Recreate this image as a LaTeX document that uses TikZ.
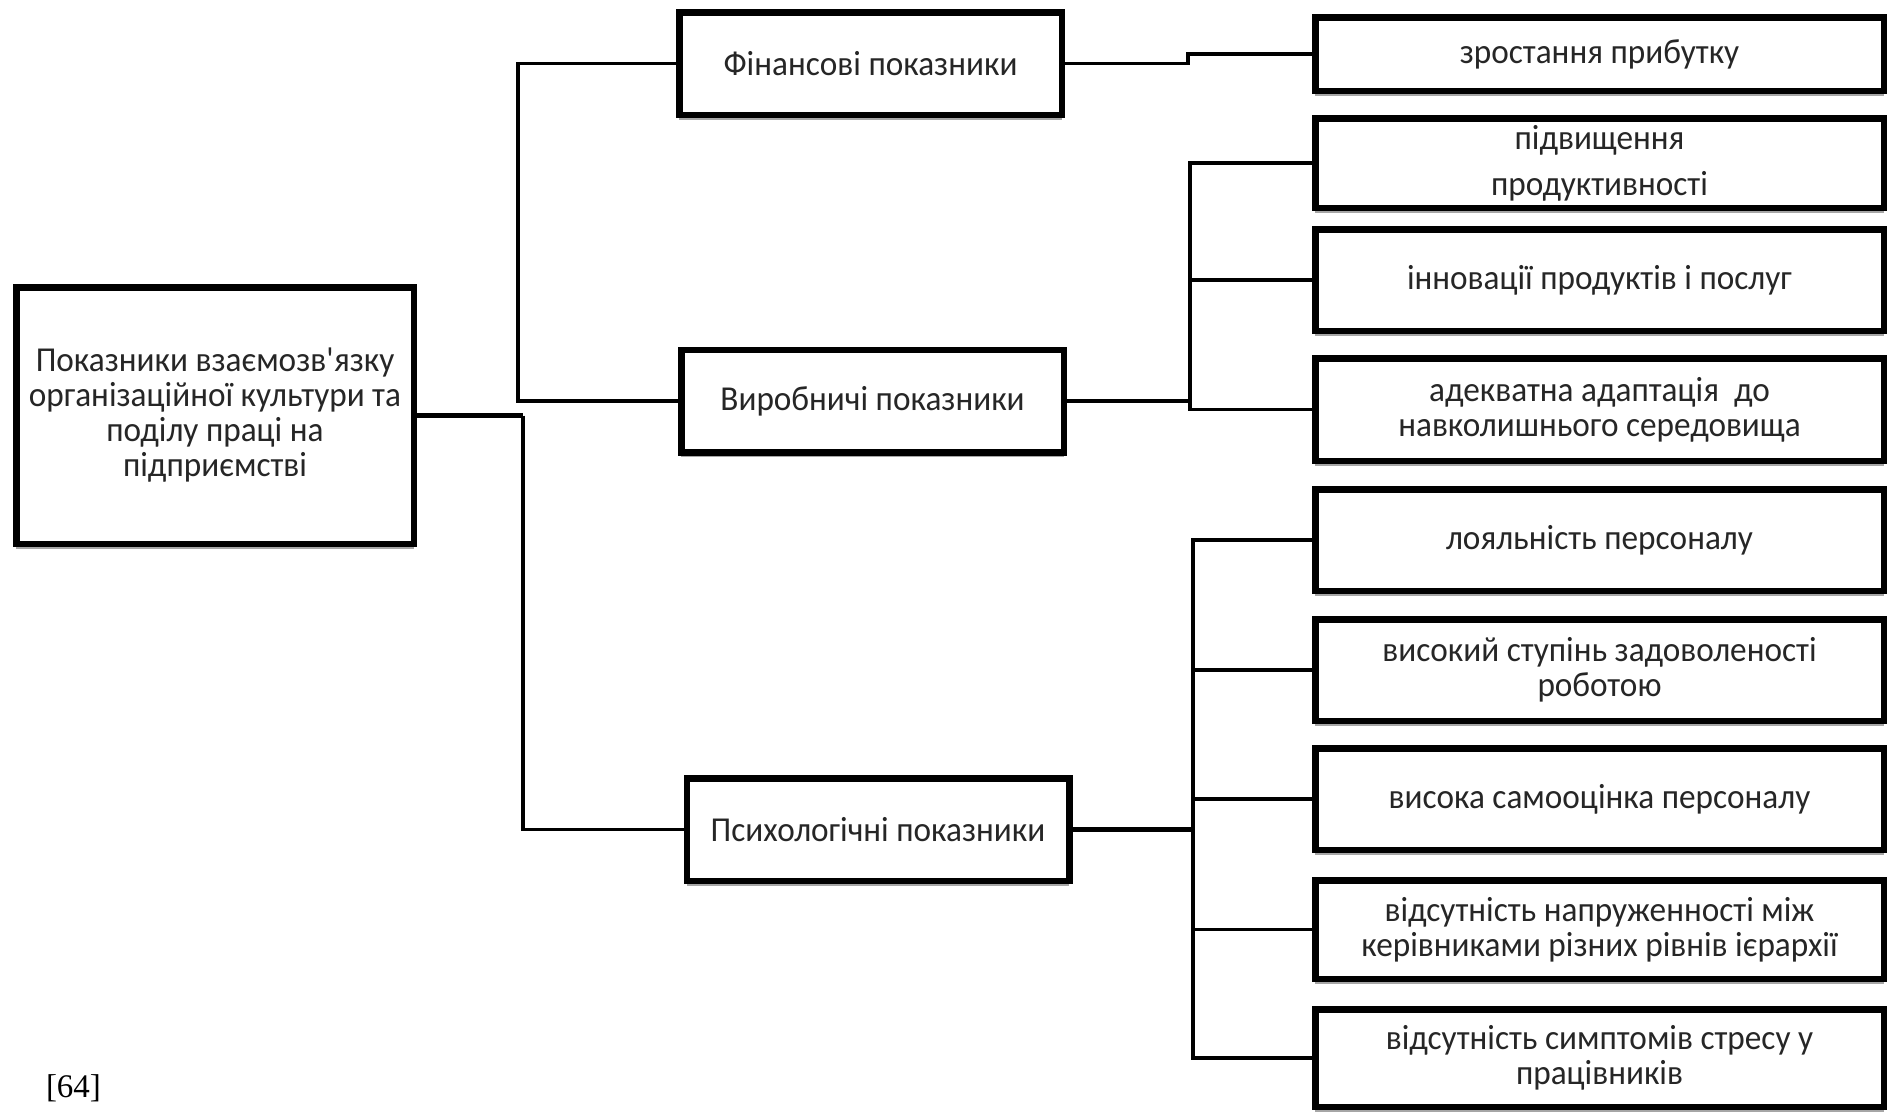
\documentclass[tikz,border=0pt]{standalone}
\usepackage{fontspec}
\setmainfont{Carlito}[FakeStretch=0.95]
\newfontfamily\timesf{Liberation Serif}
\usetikzlibrary{shadows}
\begin{document}
\begin{tikzpicture}[x=1pt,y=-1pt,
  box/.style={draw=black, line width=6.5pt, fill=white, inner sep=0pt, align=center,
    text=black!85, font=\fontsize{35}{35}\selectfont,
    drop shadow={shadow xshift=0pt, shadow yshift=-5pt, fill=black!35, opacity=1}},
  midbox/.style={box, minimum width=382.5pt, minimum height=102.5pt},
  rbox/.style={box, minimum width=568.5pt},
  conn/.style={line width=3.5pt, line join=miter},
  thick conn/.style={line width=5.5pt}]
\useasboundingbox (0,0) rectangle (1892,1114);

% root
\node[box, minimum width=397.5pt, minimum height=256.5pt] (root) at (215,415.5)
  {Показники взаємозв\textquotesingle язку\\організаційної культури та\\поділу праці на\\підприємстві};

% middle column
\node[midbox] (fin) at (870.5,63.5) {Фінансові показники};
\node[midbox] (vyr) at (872.5,401) {Виробничі показники};
\node[midbox] (psy) at (878,829.5) {Психологічні показники};

% right column
\node[rbox, minimum height=73.5pt]  (r1) at (1599.5,54)    {зростання прибутку};
\node[rbox, minimum height=89.5pt, font=\fontsize{35}{46}\selectfont] (r2) at (1599.5,163) {підвищення\\продуктивності};
\node[rbox, minimum height=101.5pt] (r3) at (1599.5,280)   {інновації продуктів і послуг};
\node[rbox, minimum height=102.5pt] (r4) at (1599.5,409.5) {адекватна адаптація\ \ до\\навколишнього середовища};
\node[rbox, minimum height=101.5pt] (r5) at (1599.5,540)   {лояльність персоналу};
\node[rbox, minimum height=101.5pt] (r6) at (1599.5,670)   {високий ступінь задоволеності\\роботою};
\node[rbox, minimum height=101.5pt] (r7) at (1599.5,799)   {висока самооцінка персоналу};
\node[rbox, minimum height=98.5pt]  (r8) at (1599.5,929.5) {відсутність напруженності між\\керівниками різних рівнів ієрархії};
\node[rbox, minimum height=97.5pt]  (r9) at (1599.5,1058)  {відсутність симптомів стресу у\\працівників};

\node[anchor=base, inner sep=0pt, font=\timesf\fontsize{33}{33}\selectfont] (ref) at (73.5,1097) {[64]};

% connectors: root to middle column
\coordinate (tu) at (518,401);
\coordinate (tl) at (523,415.5);
\draw[conn] (fin.west) -| (tu) -- (vyr.west);
\draw[thick conn] (root.east) -- (tl);
\draw[conn] (tl) |- (psy.west);

% financial
\coordinate (fj) at (1188,63.5);
\draw[conn] (fin.east) -- (fj) |- (r1.west);

% production bus
\coordinate (vb) at (1190,401);
\draw[conn] (vyr.east) -- (vb);
\draw[conn] (r2.west) -| (vb);
\draw[conn] (r3.west) -- (r3.west -| vb);
\draw[conn] (r4.west) -| (vb);

% psychological bus
\coordinate (pb) at (1193,829.5);
\draw[thick conn] (psy.east) -- (pb);
\draw[conn] (r5.west) -| (pb);
\draw[conn] (r6.west) -- (r6.west -| pb);
\draw[conn] (r7.west) -- (r7.west -| pb);
\draw[conn] (r8.west) -- (r8.west -| pb);
\draw[conn] (r9.west) -| (pb);
\end{tikzpicture}
\end{document}
